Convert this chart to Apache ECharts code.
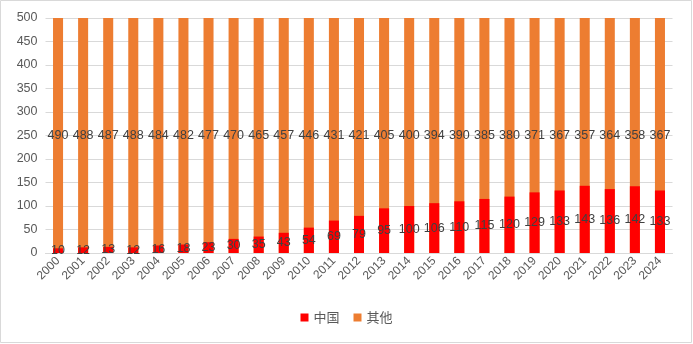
<!DOCTYPE html>
<html><head><meta charset="utf-8">
<script src="https://cdn.jsdelivr.net/npm/echarts@6/dist/echarts.min.js"></script>
<style>html,body{margin:0;padding:0;background:#fff}#c{width:693px;height:344px}</style>
</head><body><div id="c"></div>
<script>
const years = ['2000','2001','2002','2003','2004','2005','2006','2007','2008','2009','2010','2011','2012','2013','2014','2015','2016','2017','2018','2019','2020','2021','2022','2023','2024'];
const china = [10,12,13,12,16,18,23,30,35,43,54,69,79,95,100,106,110,115,120,129,133,143,136,142,133];
const others = [490,488,487,488,484,482,477,470,465,457,446,431,421,405,400,394,390,385,380,371,367,357,364,358,367];
const yTicks = [0,50,100,150,200,250,300,350,400,450,500];

const totals = china.map((v,i)=>v+others[i]);
const chart = echarts.init(document.getElementById('c'));
const lbl = {show:true, position:'inside', color:'#404040', fontSize:12.5, fontFamily:'Liberation Sans, Arial, sans-serif'};
chart.setOption({
  animation:false,
  graphic:[{type:'rect', shape:{x:0.5,y:0.5,width:691,height:342}, style:{fill:'none', stroke:'#d9d9d9', lineWidth:1}, silent:true}],
  grid:{left:45.5, right:20.5, top:18, bottom:91},
  legend:{bottom:15, left:'center', itemWidth:8, itemHeight:8, itemGap:14, icon:'rect',
    textStyle:{color:'#595959', fontSize:13, fontFamily:'Noto Sans CJK SC'},
    data:['中国','其他']},
  xAxis:{type:'category', data:years,
    axisLine:{lineStyle:{color:'#d9d9d9'}}, axisTick:{show:false},
    axisLabel:{rotate:45, color:'#595959', fontSize:12, interval:0, margin:6, fontFamily:'Liberation Sans, Arial, sans-serif'}},
  yAxis:{type:'value', min:yTicks[0], max:yTicks[yTicks.length-1], interval:50,
    axisLine:{show:false}, axisTick:{show:false},
    splitLine:{lineStyle:{color:'#d9d9d9'}},
    axisLabel:{color:'#595959', fontSize:12.5, margin:8, fontFamily:'Liberation Sans, Arial, sans-serif'}},
  series:[
    {name:'其他', type:'bar', data:totals, barWidth:'40%', barGap:'-100%', z:1,
     itemStyle:{color:'#ED7D31'},
     label:Object.assign({}, lbl, {formatter:p=>String(others[p.dataIndex])})},
    {name:'中国', type:'bar', data:china, barWidth:'40%', z:2,
     itemStyle:{color:'#FF0000'},
     label:Object.assign({}, lbl)}
  ]
});
</script></body></html>
